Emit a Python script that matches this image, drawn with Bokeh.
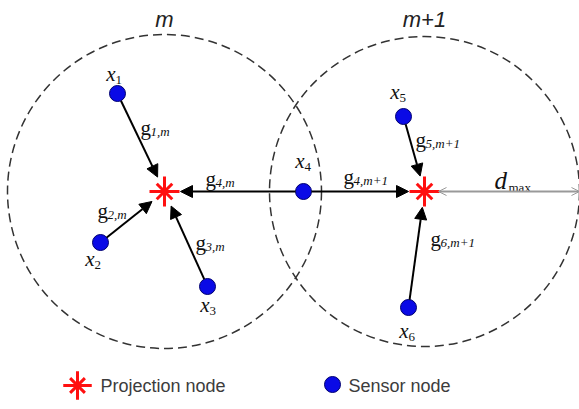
import numpy as np
from bokeh.plotting import figure
from bokeh.models import ColumnDataSource, Arrow, NormalHead, OpenHead, Range1d
from bokeh.core.properties import value
from bokeh.embed import file_html
from bokeh.resources import INLINE

# ---------------- data (diagram coordinates, y grows downward) ----------------
cell_names = ["m", "m+1"]
proj_x = [164, 424]
proj_y = [191, 191]
cell_radius = [157, 155]

sensor_ids = ["1", "2", "3", "4", "5", "6"]
sensor_x = [117, 100, 207, 303, 403, 408]
sensor_y = [93, 242, 286, 191, 116, 307]

link_sensor = [0, 1, 2, 3, 3, 4, 5]
link_proj = [0, 0, 0, 0, 1, 1, 1]
link_sub = ["1,m", "2,m", "3,m", "4,m", "4,m+1", "5,m+1", "6,m+1"]

legend_labels = ["Projection node", "Sensor node"]

# ---------------- layout (label offsets relative to marks) ----------------
sensor_lab_dx = [-1, -5, 3, 2, -3, 1]
sensor_lab_dy = [-20, 16, 18, -31, -25, 23]
link_lab_x = [140, 97, 195, 205, 343, 415, 430]
link_lab_y = [127, 210, 242, 178, 176, 139, 238]

SERIF = value("Liberation Serif")
SANS = value("Liberation Sans")

W, H = 579, 409
p = figure(width=W, height=H, x_range=Range1d(0, W), y_range=Range1d(H, 0),
           output_backend="svg", toolbar_location=None, min_border=0,
           min_border_left=0, min_border_right=0, min_border_top=0, min_border_bottom=0)
p.axis.visible = False
p.grid.visible = False
p.outline_line_color = None
p.background_fill_color = "white"
p.border_fill_color = "white"

# dashed cell boundaries
p.circle(x=proj_x, y=proj_y, radius=cell_radius, fill_alpha=0, line_color="#333333",
         line_width=1.5, line_dash="9 5")

# d_max arrow
dmax_start = proj_x[1] + 14
dmax_end = proj_x[1] + cell_radius[1]
p.add_layout(Arrow(x_start=dmax_start, y_start=proj_y[1], x_end=dmax_end, y_end=proj_y[1],
                   line_color="#999999", line_width=2,
                   start=OpenHead(size=8, line_color="#999999", line_width=1),
                   end=OpenHead(size=8, line_color="#999999", line_width=1)))

# link arrows
xs, ys, xe, ye = [], [], [], []
for s, j in zip(link_sensor, link_proj):
    sx, sy = sensor_x[s], sensor_y[s]
    px, py = proj_x[j], proj_y[j]
    d = np.hypot(px - sx, py - sy)
    ux, uy = (px - sx) / d, (py - sy) / d
    xs.append(sx + 8 * ux); ys.append(sy + 8 * uy)
    xe.append(px - 16 * ux); ye.append(py - 16 * uy)
asrc = ColumnDataSource(dict(xs=xs, ys=ys, xe=xe, ye=ye))
p.add_layout(Arrow(x_start="xs", y_start="ys", x_end="xe", y_end="ye", source=asrc,
                   line_color="black", line_width=2,
                   end=NormalHead(size=12, fill_color="black", line_color="black", line_width=1)))

# projection nodes (stars)
def star(x, y, s=1.0):
    p.scatter(x=x, y=y, marker="x", size=22 * s, line_color="#ff1010", line_width=3)
    p.scatter(x=x, y=y, marker="cross", size=30 * s, line_color="#ff1010", line_width=3)

star(proj_x, proj_y)

# sensor nodes
p.scatter(x=sensor_x, y=sensor_y, marker="circle", size=16, fill_color="#0a0ae6",
          line_color="#000070", line_width=1)

# sensor labels
lx = [sensor_x[i] + sensor_lab_dx[i] for i in range(6)]
ly = [sensor_y[i] + sensor_lab_dy[i] for i in range(6)]
p.text(x=[v - 1 for v in lx], y=ly, text=["x"] * 6, text_font=SERIF, text_font_style="italic",
       text_font_size="21px", text_align="right", text_baseline="middle", text_color="#111111")
p.text(x=[v - 1 for v in lx], y=[v + 6 for v in ly], text=sensor_ids, text_font=SERIF,
       text_font_size="13px", text_align="left", text_baseline="middle", text_color="#111111")

# link labels
p.text(x=link_lab_x, y=link_lab_y, text=["g"] * len(link_lab_x), text_font=SERIF,
       text_font_size="21px", text_align="left", text_baseline="middle", text_color="#111111")
p.text(x=[v + 10 for v in link_lab_x], y=[v + 4 for v in link_lab_y], text=link_sub,
       text_font=SERIF, text_font_style="italic", text_font_size="13px",
       text_align="left", text_baseline="middle", text_color="#111111")

# d_max label
dlx = dmax_start + 56
p.text(x=[dlx], y=[180], text=["d"], text_font=SERIF, text_font_style="italic",
       text_font_size="25px", text_align="left", text_baseline="middle", text_color="#111111")
p.text(x=[dlx + 14], y=[187], text=["max"], text_font=SERIF,
       text_font_size="13px", text_align="left", text_baseline="middle", text_color="#111111")

# cell names
p.text(x=proj_x, y=[19, 19], text=cell_names, text_font=SANS, text_font_style="italic",
       text_font_size="22px", text_align="center", text_baseline="alphabetic",
       text_color="#222222")

# legend
star([77], [385], 0.95)
p.scatter(x=[332], y=[384], marker="circle", size=16, fill_color="#0a0ae6",
          line_color="#000070", line_width=1)
p.text(x=[100, 348], y=[385, 385], text=legend_labels, text_font=SANS,
       text_font_size="18px", text_align="left", text_baseline="middle", text_color="#3c3c3c")

open("out.html", "w").write(file_html(p, INLINE))
